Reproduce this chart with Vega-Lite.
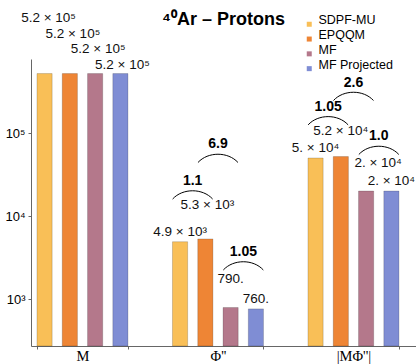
{
  "$schema": "https://vega.github.io/schema/vega-lite/v6.json",
  "width": 385,
  "height": 287,
  "autosize": "none",
  "padding": {"left": 31, "top": 59, "right": 0, "bottom": 18},
  "title": {
    "text": "⁴⁰Ar – Protons",
    "font": "Liberation Sans",
    "fontSize": 18,
    "fontWeight": "bold",
    "color": "black",
    "anchor": "middle",
    "frame": "group",
    "baseline": "alphabetic",
    "offset": -32
  },
  "config": {
    "view": {"stroke": null},
    "font": "Liberation Sans",
    "text": {"font": "Liberation Sans"}
  },
  "datasets": {
    "bars": [
      {"group": "M", "series": "SDPF-MU", "value": 520000, "label": "5.2 × 10⁵"},
      {"group": "M", "series": "EPQQM", "value": 520000, "label": "5.2 × 10⁵"},
      {"group": "M", "series": "MF", "value": 520000, "label": "5.2 × 10⁵"},
      {"group": "M", "series": "MF Projected", "value": 520000, "label": "5.2 × 10⁵"},
      {"group": "Φ''", "series": "SDPF-MU", "value": 4900, "label": "4.9 × 10³"},
      {"group": "Φ''", "series": "EPQQM", "value": 5300, "label": "5.3 × 10³"},
      {"group": "Φ''", "series": "MF", "value": 790, "label": "790."},
      {"group": "Φ''", "series": "MF Projected", "value": 760, "label": "760."},
      {"group": "|MΦ''|", "series": "SDPF-MU", "value": 50000, "label": "5. × 10⁴"},
      {"group": "|MΦ''|", "series": "EPQQM", "value": 52000, "label": "5.2 × 10⁴"},
      {"group": "|MΦ''|", "series": "MF", "value": 20000, "label": "2. × 10⁴"},
      {"group": "|MΦ''|", "series": "MF Projected", "value": 20000, "label": "2. × 10⁴"}
    ],
    "arcs": [
      {"group": "Φ''", "between": "SDPF-MU/EPQQM", "value": 18400, "ratio": "1.1"},
      {"group": "Φ''", "between": "EPQQM/MF", "value": 50700, "ratio": "6.9"},
      {"group": "Φ''", "between": "MF/MF Projected", "value": 2570, "ratio": "1.05"},
      {"group": "|MΦ''|", "between": "EPQQM/MF", "value": 283000, "ratio": "2.6"},
      {"group": "|MΦ''|", "between": "SDPF-MU/EPQQM", "value": 144000, "ratio": "1.05"},
      {"group": "|MΦ''|", "between": "MF/MF Projected", "value": 63300, "ratio": "1.0"}
    ]
  },
  "resolve": {"scale": {"xOffset": "independent"}},
  "layer": [
    {
      "data": {"name": "bars"},
      "encoding": {
        "x": {
          "field": "group",
          "type": "nominal",
          "sort": ["M", "Φ''", "|MΦ''|"],
          "scale": {"domain": ["M", "Φ''", "|MΦ''|"], "paddingInner": 0.3284, "paddingOuter": 0.0849, "align": 0.26},
          "axis": {
            "title": null,
            "labelAngle": 0,
            "labelFont": "Liberation Serif",
            "labelFontSize": 14.5,
            "labelColor": "black",
            "labelPadding": 0,
            "domainColor": "#666",
            "tickColor": "#666",
            "tickSize": 3,
            "tickBand": "extent"
          }
        },
        "xOffset": {
          "field": "series",
          "type": "nominal",
          "scale": {"domain": ["SDPF-MU", "EPQQM", "MF", "MF Projected"], "paddingInner": 0.4, "paddingOuter": 0}
        },
        "y": {
          "field": "value",
          "type": "quantitative",
          "scale": {"type": "log", "domain": [271.6, 779000], "nice": false},
          "axis": {
            "title": null,
            "values": [1000, 10000, 100000],
            "labelExpr": "datum.value == 1000 ? '10³' : datum.value == 10000 ? '10⁴' : '10⁵'",
            "labelFontSize": 13,
            "labelColor": "black",
            "labelPadding": 3,
            "tickSize": 3,
            "grid": false,
            "domainColor": "#666",
            "tickColor": "#666"
          }
        }
      },
      "layer": [
        {
          "mark": {"type": "bar", "stroke": "#000", "strokeOpacity": 0.25, "strokeWidth": 0.7},
          "encoding": {
            "y2": {"datum": 271.6},
            "color": {
              "field": "series",
              "type": "nominal",
              "scale": {"domain": ["SDPF-MU", "EPQQM", "MF", "MF Projected"], "range": ["#F9BF57", "#EE8535", "#B4788B", "#7F8DD4"]},
              "legend": {
                "title": null,
                "orient": "none",
                "legendX": 272,
                "legendY": -41,
                "symbolType": "square",
                "symbolSize": 25,
                "symbolStrokeWidth": 0,
                "labelFontSize": 12.5,
                "labelColor": "black",
                "labelOffset": 3,
                "labelBaseline": "alphabetic",
                "rowPadding": 1.8
              }
            }
          }
        },
        {
          "transform": [{"filter": {"and": [{"field": "group", "equal": "M"}, {"field": "series", "equal": "SDPF-MU"}]}}],
          "mark": {"type": "text", "fontSize": 13.5, "baseline": "middle", "dy": -56, "dx": 4, "color": "#111"},
          "encoding": {"text": {"field": "label"}}
        },
        {
          "transform": [{"filter": {"and": [{"field": "group", "equal": "M"}, {"field": "series", "equal": "EPQQM"}]}}],
          "mark": {"type": "text", "fontSize": 13.5, "baseline": "middle", "dy": -40, "dx": 3, "color": "#111"},
          "encoding": {"text": {"field": "label"}}
        },
        {
          "transform": [{"filter": {"and": [{"field": "group", "equal": "M"}, {"field": "series", "equal": "MF"}]}}],
          "mark": {"type": "text", "fontSize": 13.5, "baseline": "middle", "dy": -25, "dx": 3, "color": "#111"},
          "encoding": {"text": {"field": "label"}}
        },
        {
          "transform": [{"filter": {"and": [{"field": "group", "equal": "M"}, {"field": "series", "equal": "MF Projected"}]}}],
          "mark": {"type": "text", "fontSize": 13.5, "baseline": "middle", "dy": -9, "dx": 2, "color": "#111"},
          "encoding": {"text": {"field": "label"}}
        },
        {
          "transform": [{"filter": {"and": [{"not": {"field": "group", "equal": "M"}}, {"field": "series", "oneOf": ["SDPF-MU", "MF Projected"]}]}}],
          "mark": {"type": "text", "fontSize": 13.5, "baseline": "middle", "dy": -10, "color": "#111"},
          "encoding": {"text": {"field": "label"}}
        },
        {
          "transform": [{"filter": {"and": [{"field": "group", "equal": "Φ''"}, {"field": "series", "equal": "EPQQM"}]}}],
          "mark": {"type": "text", "fontSize": 13.5, "baseline": "middle", "dy": -34, "dx": 2, "color": "#111"},
          "encoding": {"text": {"field": "label"}}
        },
        {
          "transform": [{"filter": {"and": [{"field": "group", "equal": "Φ''"}, {"field": "series", "equal": "MF"}]}}],
          "mark": {"type": "text", "fontSize": 13.5, "baseline": "middle", "dy": -29, "color": "#111"},
          "encoding": {"text": {"field": "label"}}
        },
        {
          "transform": [{"filter": {"and": [{"field": "group", "equal": "|MΦ''|"}, {"field": "series", "equal": "EPQQM"}]}}],
          "mark": {"type": "text", "fontSize": 13.5, "baseline": "middle", "dy": -26, "color": "#111"},
          "encoding": {"text": {"field": "label"}}
        },
        {
          "transform": [{"filter": {"and": [{"field": "group", "equal": "|MΦ''|"}, {"field": "series", "equal": "MF"}]}}],
          "mark": {"type": "text", "fontSize": 13.5, "baseline": "middle", "dy": -28, "dx": 12, "color": "#111"},
          "encoding": {"text": {"field": "label"}}
        }
      ]
    },
    {
      "data": {"name": "arcs"},
      "encoding": {
        "x": {"field": "group", "type": "nominal", "sort": ["M", "Φ''", "|MΦ''|"]},
        "xOffset": {
          "field": "between",
          "type": "nominal",
          "scale": {
            "type": "point",
            "padding": 0.59,
            "domain": ["SDPF-MU", "SDPF-MU/EPQQM", "EPQQM", "EPQQM/MF", "MF", "MF/MF Projected", "MF Projected"]
          }
        },
        "y": {"field": "value", "type": "quantitative"}
      },
      "layer": [
        {
          "mark": {
            "type": "point",
            "shape": "M -1 0.25 C -0.5 -0.3 0.5 -0.3 1 0.25",
            "size": 1600,
            "filled": false,
            "stroke": "black",
            "strokeWidth": 1,
            "opacity": 1
          }
        },
        {
          "mark": {"type": "text", "fontSize": 14, "fontWeight": "bold", "baseline": "middle", "dy": -13, "color": "black"},
          "encoding": {"text": {"field": "ratio"}}
        }
      ]
    }
  ]
}
